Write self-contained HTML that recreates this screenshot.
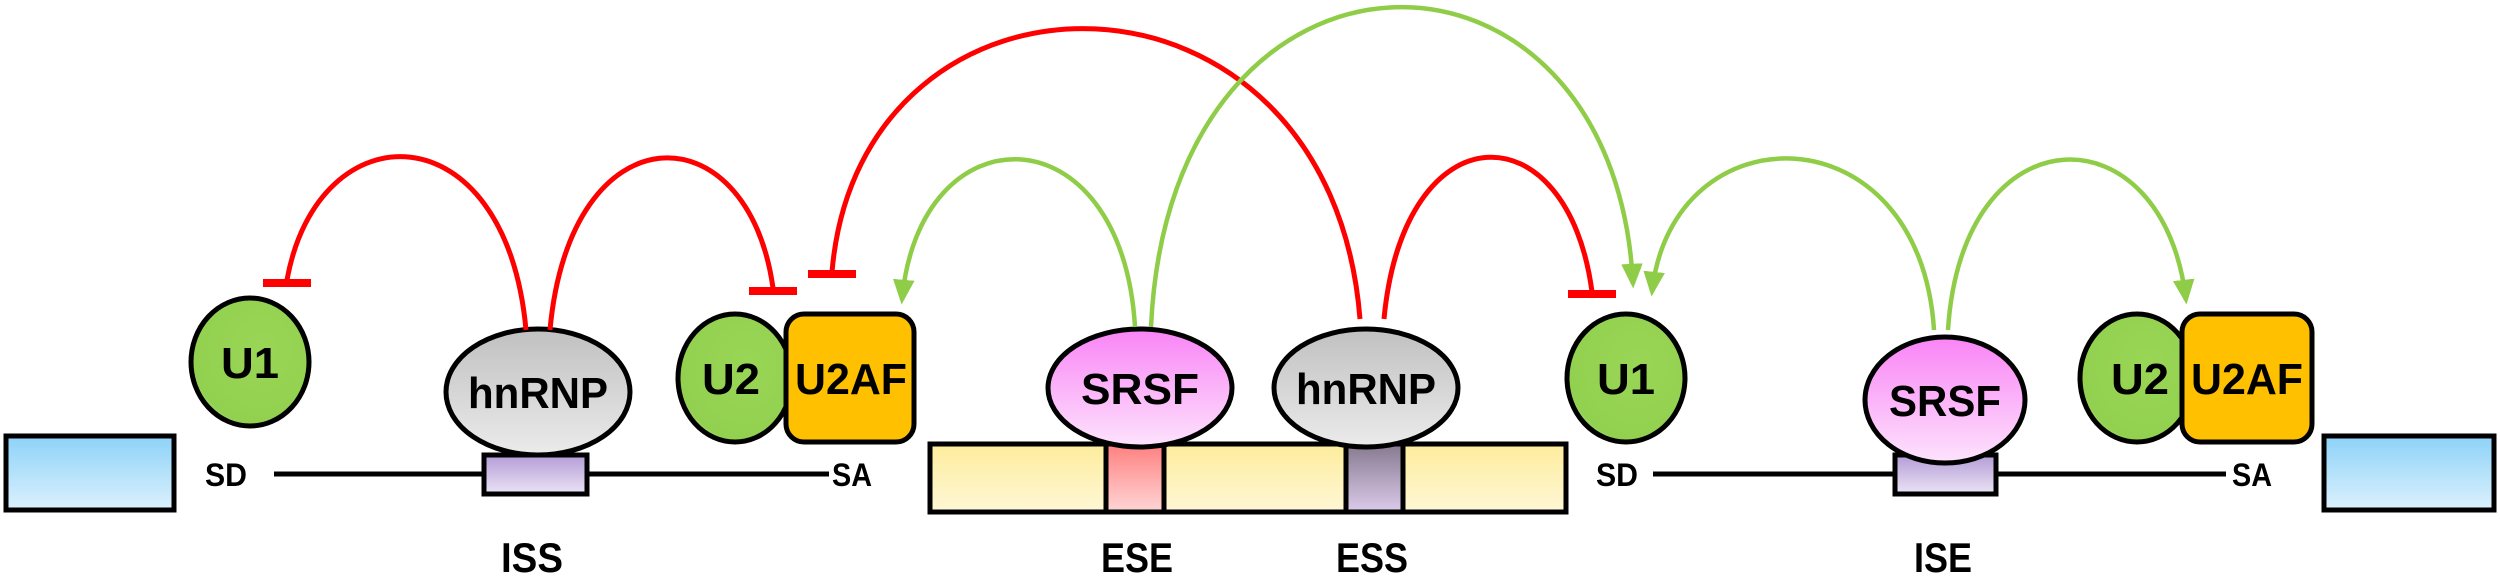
<!DOCTYPE html>
<html><head><meta charset="utf-8"><style>
html,body{margin:0;padding:0;background:#fff;}
svg{display:block;}
text{font-family:"Liberation Sans",sans-serif;}
</style></head><body>
<svg width="2500" height="576" viewBox="0 0 2500 576" xmlns="http://www.w3.org/2000/svg">
<defs>
<linearGradient id="blue" x1="0" y1="0" x2="0" y2="1"><stop offset="0" stop-color="#8dd2f8"/><stop offset="1" stop-color="#dcf1fd"/></linearGradient>
<linearGradient id="yel" x1="0" y1="0" x2="0" y2="1"><stop offset="0" stop-color="#fdec9c"/><stop offset="1" stop-color="#fff7d6"/></linearGradient>
<linearGradient id="pink" x1="0" y1="0" x2="0" y2="1"><stop offset="0" stop-color="#f984f6"/><stop offset="1" stop-color="#fde3fc"/></linearGradient>
<linearGradient id="grey" x1="0" y1="0" x2="0" y2="1"><stop offset="0" stop-color="#c0c0c0"/><stop offset="1" stop-color="#ebebeb"/></linearGradient>
<linearGradient id="purp" x1="0" y1="0" x2="0" y2="1"><stop offset="0" stop-color="#b39cd6"/><stop offset="1" stop-color="#ebe4f5"/></linearGradient>
<linearGradient id="ese" x1="0" y1="0" x2="0" y2="1"><stop offset="0" stop-color="#ff7f7f"/><stop offset="1" stop-color="#ffd6d6"/></linearGradient>
<linearGradient id="ess" x1="0" y1="0" x2="0" y2="1"><stop offset="0" stop-color="#85798f"/><stop offset="1" stop-color="#dccbeb"/></linearGradient>
<radialGradient id="grn" cx="0.6" cy="0.4" r="0.7"><stop offset="0" stop-color="#9ad656"/><stop offset="0.85" stop-color="#92d050"/><stop offset="1" stop-color="#b4e684"/></radialGradient>
<marker id="ah" markerWidth="6" markerHeight="6" refX="4.5" refY="3" orient="auto" markerUnits="strokeWidth"><path d="M0,0.6 L5.5,3 L0,5.4 Z" fill="#8fcd48"/></marker>
</defs>

<rect x="6" y="436" width="168" height="74" fill="url(#blue)" stroke="#000" stroke-width="5"/>
<rect x="2324" y="436" width="170" height="74" fill="url(#blue)" stroke="#000" stroke-width="5"/>

<line x1="274" y1="474" x2="829" y2="474" stroke="#000" stroke-width="5"/>
<line x1="1653" y1="474" x2="2226" y2="474" stroke="#000" stroke-width="5"/>
<rect x="484" y="455" width="103" height="39" fill="url(#purp)" stroke="#000" stroke-width="5"/>
<rect x="1895" y="455" width="101" height="39" fill="url(#purp)" stroke="#000" stroke-width="5"/>

<rect x="930" y="444" width="636" height="68" fill="url(#yel)" stroke="#000" stroke-width="5"/>
<rect x="1106" y="444" width="58" height="68" fill="url(#ese)" stroke="#000" stroke-width="5"/>
<rect x="1346" y="444" width="57" height="68" fill="url(#ess)" stroke="#000" stroke-width="5"/>

<ellipse cx="250" cy="362" rx="59" ry="64" fill="url(#grn)" stroke="#000" stroke-width="5"/>
<text x="250" y="378" font-size="44" font-weight="bold" text-anchor="middle" textLength="58" lengthAdjust="spacingAndGlyphs">U1</text>
<ellipse cx="538" cy="392" rx="92" ry="63" fill="url(#grey)" stroke="#000" stroke-width="5"/>
<text x="538" y="408" font-size="44" font-weight="bold" text-anchor="middle" textLength="140" lengthAdjust="spacingAndGlyphs">hnRNP</text>

<ellipse cx="735" cy="378" rx="57" ry="64" fill="url(#grn)" stroke="#000" stroke-width="5"/>
<rect x="786" y="314" width="128" height="128" rx="18" fill="#ffc000" stroke="#000" stroke-width="5"/>
<text x="731" y="394" font-size="44" font-weight="bold" text-anchor="middle" textLength="58" lengthAdjust="spacingAndGlyphs">U2</text>
<text x="851" y="394" font-size="44" font-weight="bold" text-anchor="middle" textLength="112" lengthAdjust="spacingAndGlyphs">U2AF</text>

<ellipse cx="1140" cy="388" rx="92" ry="59" fill="url(#pink)" stroke="#000" stroke-width="5"/>
<text x="1140" y="404" font-size="44" font-weight="bold" text-anchor="middle" textLength="118" lengthAdjust="spacingAndGlyphs">SRSF</text>
<ellipse cx="1366" cy="388" rx="92" ry="59" fill="url(#grey)" stroke="#000" stroke-width="5"/>
<text x="1366" y="404" font-size="44" font-weight="bold" text-anchor="middle" textLength="140" lengthAdjust="spacingAndGlyphs">hnRNP</text>

<ellipse cx="1626" cy="378" rx="59" ry="64" fill="url(#grn)" stroke="#000" stroke-width="5"/>
<text x="1626" y="394" font-size="44" font-weight="bold" text-anchor="middle" textLength="58" lengthAdjust="spacingAndGlyphs">U1</text>

<ellipse cx="1945" cy="400" rx="80" ry="63" fill="url(#pink)" stroke="#000" stroke-width="5"/>
<text x="1945" y="416" font-size="44" font-weight="bold" text-anchor="middle" textLength="112" lengthAdjust="spacingAndGlyphs">SRSF</text>

<ellipse cx="2137" cy="378" rx="57" ry="64" fill="url(#grn)" stroke="#000" stroke-width="5"/>
<rect x="2182" y="314" width="130" height="128" rx="18" fill="#ffc000" stroke="#000" stroke-width="5"/>
<text x="2140" y="394" font-size="44" font-weight="bold" text-anchor="middle" textLength="58" lengthAdjust="spacingAndGlyphs">U2</text>
<text x="2247" y="394" font-size="44" font-weight="bold" text-anchor="middle" textLength="112" lengthAdjust="spacingAndGlyphs">U2AF</text>

<text x="226" y="486" font-size="32" font-weight="bold" text-anchor="middle" textLength="42" lengthAdjust="spacingAndGlyphs">SD</text>
<text x="852" y="486" font-size="32" font-weight="bold" text-anchor="middle" textLength="40" lengthAdjust="spacingAndGlyphs">SA</text>
<text x="1617" y="486" font-size="32" font-weight="bold" text-anchor="middle" textLength="42" lengthAdjust="spacingAndGlyphs">SD</text>
<text x="2252" y="486" font-size="32" font-weight="bold" text-anchor="middle" textLength="40" lengthAdjust="spacingAndGlyphs">SA</text>
<text x="532" y="572" font-size="42" font-weight="bold" text-anchor="middle" textLength="62" lengthAdjust="spacingAndGlyphs">ISS</text>
<text x="1137" y="572" font-size="42" font-weight="bold" text-anchor="middle" textLength="72" lengthAdjust="spacingAndGlyphs">ESE</text>
<text x="1372" y="572" font-size="42" font-weight="bold" text-anchor="middle" textLength="72" lengthAdjust="spacingAndGlyphs">ESS</text>
<text x="1943" y="572" font-size="42" font-weight="bold" text-anchor="middle" textLength="58" lengthAdjust="spacingAndGlyphs">ISE</text>

<g fill="none" stroke="#ff0000" stroke-width="5">
<path d="M526,330 C506,108 318,108 287,280"/>
<line x1="263" y1="283" x2="311" y2="283" stroke-width="8"/>
<path d="M550,330 C570,108 748,108 773,288"/>
<line x1="749" y1="291" x2="797" y2="291" stroke-width="8"/>
<path d="M1360,319 C1330,-60 860,-60 832,272"/>
<line x1="808" y1="274" x2="856" y2="274" stroke-width="8"/>
<path d="M1384,319 C1404,108 1568,108 1592,292"/>
<line x1="1568" y1="294" x2="1616" y2="294" stroke-width="8"/>
</g>
<g fill="none" stroke="#8fcd48" stroke-width="4.5">
<path d="M1135,327 C1122,108 919,108 902,300" marker-end="url(#ah)"/>
<path d="M1151,327 C1170,-92 1614,-92 1633,284" marker-end="url(#ah)"/>
<path d="M1934,330 C1920,108 1672,108 1652,292" marker-end="url(#ah)"/>
<path d="M1948,330 C1962,108 2164,108 2186,300" marker-end="url(#ah)"/>
</g>
</svg>
</body></html>
